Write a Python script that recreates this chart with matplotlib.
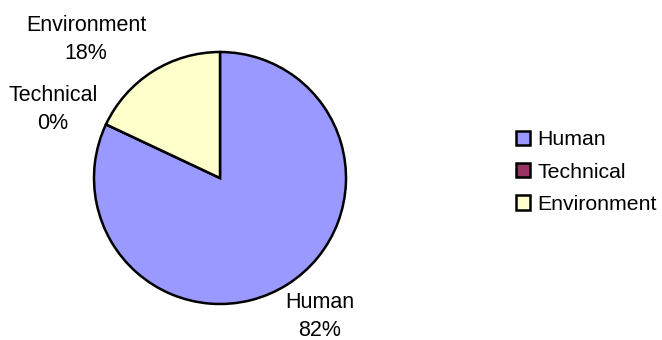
import matplotlib
matplotlib.use("Agg")
import matplotlib.pyplot as plt

# Data ########################################################################
categories = ["Human", "Technical", "Environment"]
shares = [82, 0, 18]
colors = ["#9999FF", "#993366", "#FFFFCC"]

plt.rcParams['font.family'] = ['Liberation Sans', 'DejaVu Sans']

W, H = 662, 340
fig = plt.figure(figsize=(W / 100, H / 100), dpi=100)
fig.patch.set_facecolor("white")

# Pie axes: centre (220, 178) px, radius 126 px
cx, cy, r = 220, 178, 126
ax = fig.add_axes([(cx - r) / W, (H - cy - r) / H, 2 * r / W, 2 * r / H])

wedges, _ = ax.pie(shares, colors=colors, startangle=90, counterclock=False,
                   radius=1, wedgeprops=dict(edgecolor="black", linewidth=1.8))
ax.set_xlim(-1, 1)
ax.set_ylim(-1, 1)
ax.set_aspect("equal")
ax.axis("off")

# Data labels
label_pos = {"Human": (0.794, -1.102),
             "Technical": (-1.325, 0.545),
             "Environment": (-1.063, 1.10)}
total = sum(shares)
for name, val in zip(categories, shares):
    x, y = label_pos[name]
    ax.text(x, y, "%s\n%d%%" % (name, round(100 * val / total)),
            ha="center", va="center", fontsize=15.5, color="black",
            linespacing=1.45, clip_on=False)

# Legend
fig.legend(wedges, categories, loc="center left",
           bbox_to_anchor=(505 / W, (H - 172) / H), frameon=False,
           fontsize=15.3, handlelength=0.68, handleheight=0.68,
           handletextpad=0.35, labelspacing=0.62, borderpad=0)

fig.savefig("out.png", dpi=100)
plt.close()
